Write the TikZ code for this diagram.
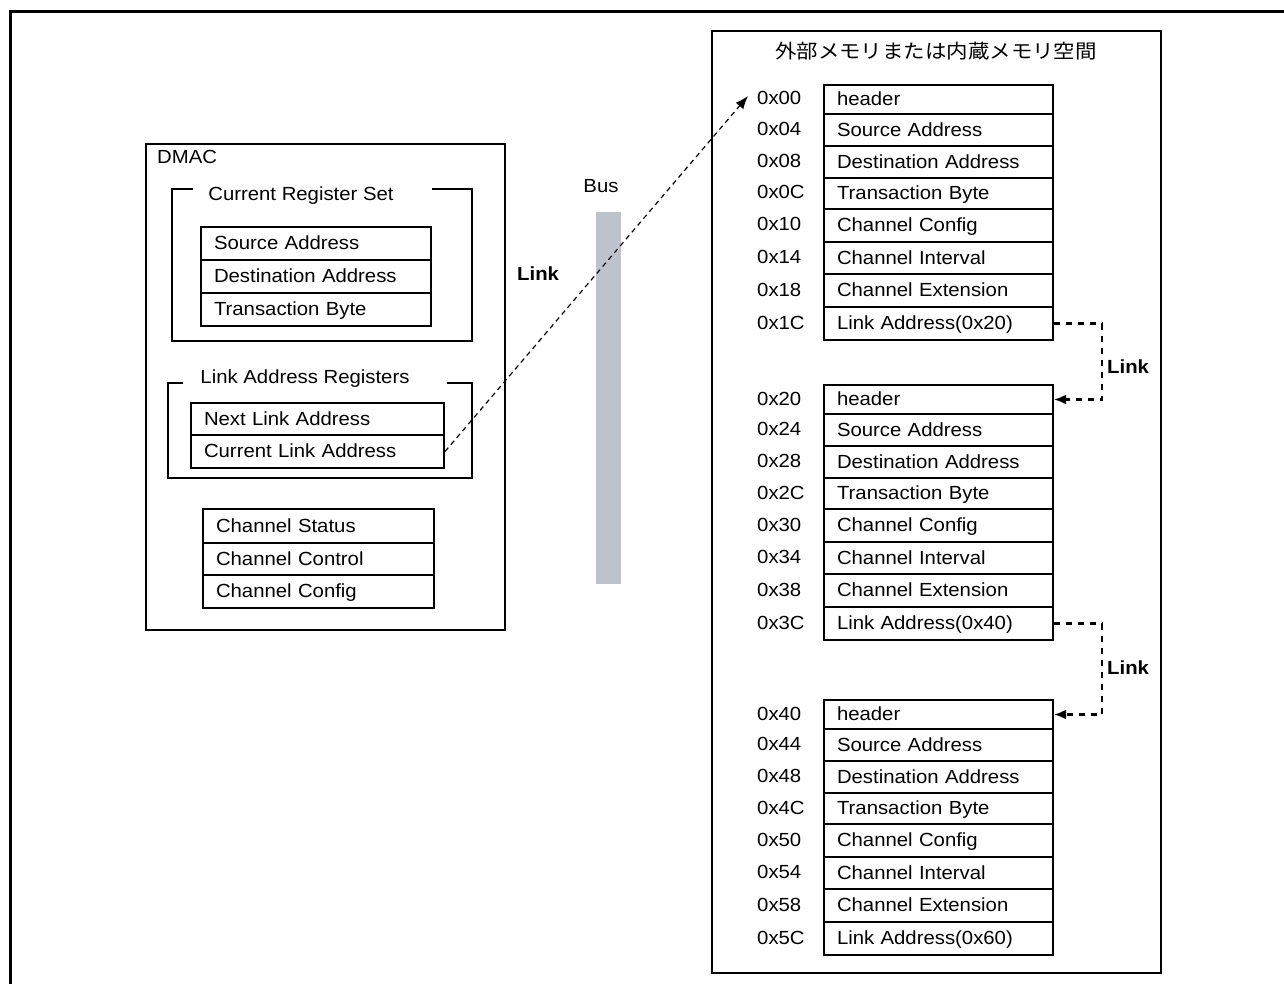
\documentclass[tikz,border=0pt]{standalone}
\usepackage{fontspec}
\setmainfont{Liberation Sans}[FakeStretch=1.07]
\newfontfamily\jpfont{Noto Sans CJK JP}[FakeStretch=1.1]
\usetikzlibrary{arrows.meta}
\definecolor{busgray}{HTML}{BEC2CA}
\newcommand\rfs{\fontsize{19}{22}\selectfont}

\begin{document}
\begin{tikzpicture}[x=1pt,y=-1pt,
  every node/.style={font=\rfs},
  box/.style={draw, line width=2pt, rectangle, anchor=north west, inner sep=0pt},
  reg/.style={draw, line width=2pt, rectangle, anchor=north west, inner xsep=13pt, inner ysep=0pt,
              text height=12.5pt, text depth=0pt, align=left},
  lbl/.style={anchor=base west, inner sep=0pt},
  clbl/.style={anchor=base, inner sep=0pt},
  bold/.style={font=\rfs\bfseries},
  grp/.style={line width=2pt},
  diag/.style={line width=1.2pt, dash pattern=on 5pt off 4pt, -{Latex[length=13pt,width=10pt]}},
  lnk/.style={line width=2.2pt, dash pattern=on 6pt off 6pt, -{Latex[length=12pt,width=10pt]}}
]
\useasboundingbox (0,0) rectangle (1284,984);
% outer frame
\draw[line width=3pt] (10.5,984) -- (10.5,11.5) -- (1284,11.5);

% DMAC
\node[box, minimum width=359pt, minimum height=486pt] (dmac) at (145,143) {};
\node[lbl] (dmaclbl) at (157,164) {DMAC};

% Current register set
\draw[grp] (193,189) -- (172,189) -- (172,341) -- (472,341) -- (472,189) -- (432,189);
\node[clbl] (crs) at (301,201) {Current Register Set};
\node[reg, minimum height=33pt, text width=204pt] (csa) at (200,226) {Source Address};
\node[reg, minimum height=33pt, text width=204pt] (cda) at (200,259) {Destination Address};
\node[reg, minimum height=33pt, text width=204pt] (ctb) at (200,292) {Transaction Byte};

% Link address registers
\draw[grp] (183,383) -- (168,383) -- (168,478) -- (472,478) -- (472,383) -- (447,383);
\node[clbl] (lar) at (305,383) {Link Address Registers};
\node[reg, minimum height=32pt, text width=227pt] (nla) at (190,402) {Next Link Address};
\node[reg, minimum height=33pt, text width=227pt] (cla) at (190,434) {Current Link Address};

% Channel registers
\node[reg, minimum height=34pt, text width=205pt] (cst) at (202,508) {Channel Status};
\node[reg, minimum height=32pt, text width=205pt] (cct) at (202,542) {Channel Control};
\node[reg, minimum height=33pt, text width=205pt] (ccf) at (202,574) {Channel Config};

% Bus
\node[clbl] (buslbl) at (601,193) {Bus};
\node[fill=busgray, anchor=north west, inner sep=0pt, minimum width=25pt, minimum height=372pt] (bus) at (596,212) {};
\node[lbl, bold] (link0) at (517,280) {Link};

% Memory space
\node[box, minimum width=449pt, minimum height=942pt] (mem) at (711,30) {};
\node[anchor=base, inner sep=0pt, font=\jpfont\fontsize{19.5}{22}\selectfont] (memtitle) at (936,59) {外部メモリまたは内蔵メモリ空間};

\foreach \b/\top/\pre in {1/84/0, 2/384/2, 3/699/4}{
  \pgfmathtruncatemacro{\nx}{2*\b}
  \foreach \i/\off/\h/\lo/\txt in {1/0/29/0/header, 2/29/32/4/Source Address, 3/61/32/8/Destination Address,
      4/93/31/C/Transaction Byte, 5/124/33/0/Channel Config, 6/157/32/4/Channel Interval,
      7/189/33/8/Channel Extension, 8/222/33/C/Link Address(0x\nx0)}{
    \pgfmathtruncatemacro{\hi}{\pre+(\i>4)}
    \node[reg, minimum height=\h pt, text width=203pt] (m\b-\i) at (823,\top+\off) {\txt};
    \node[lbl] (a\b-\i) at (757,\top+\off+\h/2+6.5) {0x\hi\lo};
  }
}

% connectors
\coordinate (tip) at (748,96);
\draw[diag] (cla.east) -- (tip);
\draw[lnk] (m1-8.east) -- ++(48,0) |- (m2-1.east);
\draw[lnk] (m2-8.east) -- ++(48,0) |- (m3-1.east);
\node[lbl, bold] (link1) at (1107,373) {Link};
\node[lbl, bold] (link2) at (1107,674) {Link};
\end{tikzpicture}
\end{document}
